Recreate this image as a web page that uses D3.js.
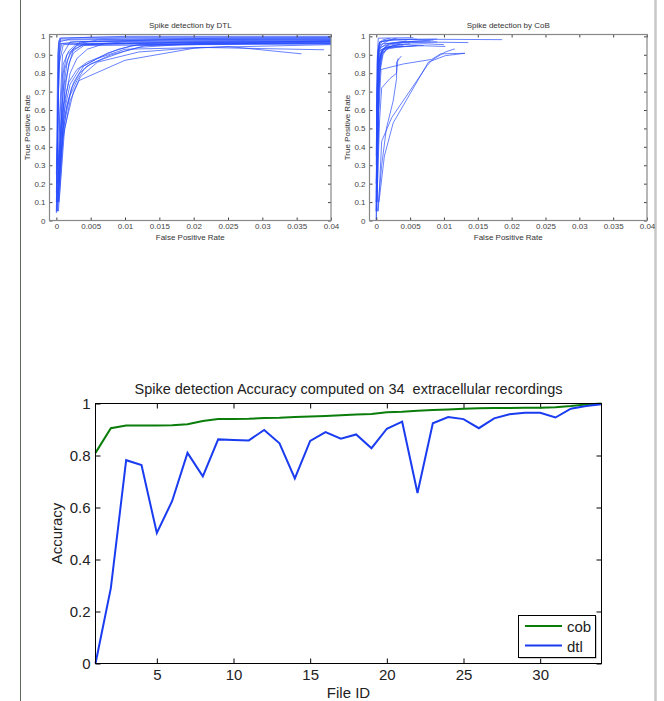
<!DOCTYPE html>
<html>
<head>
<meta charset="utf-8">
<script src="https://cdn.jsdelivr.net/npm/d3@7"></script>
<style>
body { margin: 0; background: #fff; }
svg { display: block; font-family: "Liberation Sans", Arial, sans-serif; }
</style>
</head>
<body>
<svg width="664" height="701"></svg>
<script>
// ROC кривые DTL: [FPR, TPR]
const rocDtl = [
    [[0, 0.04], [0.0002, 0.5], [0.0003, 0.95], [0.0005, 0.99], [0.005, 0.995], [0.02, 0.995], [0.04, 0.995]],
    [[0, 0.1], [0.0002, 0.6], [0.0004, 0.97], [0.002, 0.985], [0.01, 0.99], [0.04, 0.99]],
    [[0.0001, 0.2], [0.0003, 0.8], [0.0005, 0.96], [0.003, 0.97], [0.015, 0.975], [0.04, 0.98]],
    [[0, 0.05], [0.0004, 0.9], [0.0008, 0.96], [0.005, 0.962], [0.04, 0.965]],
    [[0.0001, 0.3], [0.0004, 0.85], [0.001, 0.955], [0.01, 0.958], [0.04, 0.96]],
    [[0, 0.15], [0.0003, 0.7], [0.0006, 0.99], [0.01, 1.0], [0.04, 1.0]],
    [[0.0001, 0.05], [0.0005, 0.6], [0.0009, 0.9], [0.002, 0.97], [0.02, 0.985], [0.04, 0.985]],
    [[0, 0.25], [0.0002, 0.9], [0.0004, 0.98], [0.025, 0.99], [0.04, 0.992]],
    [[0.0002, 0.1], [0.0006, 0.5], [0.001, 0.8], [0.0015, 0.9], [0.003, 0.95], [0.01, 0.97], [0.04, 0.975]],
    [[0.0003, 0.2], [0.0008, 0.6], [0.0012, 0.82], [0.002, 0.91], [0.004, 0.96], [0.012, 0.965], [0.04, 0.97]],
    [[0.0002, 0.05], [0.0007, 0.45], [0.0013, 0.75], [0.002, 0.87], [0.0025, 0.93], [0.004, 0.955], [0.02, 0.97], [0.04, 0.972]],
    [[0.0001, 0.1], [0.0005, 0.55], [0.001, 0.85], [0.0018, 0.92], [0.003, 0.96], [0.006, 0.98], [0.04, 0.985]],
    [[0.0003, 0.3], [0.001, 0.7], [0.0016, 0.87], [0.0024, 0.93], [0.0035, 0.97], [0.015, 0.98], [0.04, 0.98]],
    [[0.0003, 0.05], [0.001, 0.45], [0.002, 0.65], [0.0033, 0.76], [0.01, 0.87], [0.02, 0.935], [0.025, 0.945], [0.0357, 0.905]],
    [[0.0004, 0.1], [0.0012, 0.5], [0.0025, 0.7], [0.0035, 0.78], [0.006, 0.86], [0.012, 0.915], [0.021, 0.94], [0.039, 0.927]],
    [[0.0002, 0.1], [0.001, 0.5], [0.002, 0.68], [0.003, 0.76], [0.004, 0.82], [0.005, 0.85], [0.008, 0.9], [0.012, 0.94], [0.02, 0.96], [0.04, 0.975]],
    [[0.0003, 0.15], [0.0011, 0.55], [0.0022, 0.72], [0.0034, 0.8], [0.0045, 0.84], [0.007, 0.88], [0.01, 0.92], [0.013, 0.95], [0.04, 0.97]],
    [[0.0002, 0.2], [0.0009, 0.6], [0.0018, 0.75], [0.003, 0.82], [0.0045, 0.86], [0.0065, 0.89], [0.009, 0.93], [0.012, 0.955], [0.04, 0.965]],
    [[0.0004, 0.25], [0.0012, 0.6], [0.002, 0.74], [0.0035, 0.83], [0.005, 0.86], [0.0075, 0.91], [0.011, 0.95], [0.02, 0.96], [0.04, 0.96]],
    [[0.0001, 0.05], [0.0008, 0.4], [0.0015, 0.62], [0.0025, 0.75], [0.004, 0.84], [0.006, 0.88], [0.01, 0.93], [0.04, 0.955]],
    [[0.0003, 0.1], [0.001, 0.55], [0.0015, 0.7], [0.002, 0.8], [0.003, 0.88], [0.0045, 0.93], [0.007, 0.96], [0.04, 0.975]],
    [[0.0002, 0.15], [0.0008, 0.5], [0.0013, 0.72], [0.0018, 0.85], [0.0025, 0.91], [0.004, 0.95], [0.04, 0.96]]
];

// ROC кривые CoB
const rocCob = [
    [[0, 0], [0.0002, 0.5], [0.0003, 0.9], [0.0005, 0.97], [0.003, 0.985], [0.0186, 0.982]],
    [[0, 0.05], [0.0001, 0.6], [0.0003, 0.93], [0.001, 0.96], [0.005, 0.97], [0.0136, 0.966]],
    [[0.0001, 0.1], [0.0003, 0.7], [0.0006, 0.9], [0.002, 0.94], [0.006, 0.95], [0.0102, 0.945]],
    [[0, 0.2], [0.0002, 0.8], [0.0004, 0.95], [0.002, 0.98], [0.009, 0.985]],
    [[0, 0.3], [0.0001, 0.85], [0.0003, 0.99], [0.0055, 0.993]],
    [[0.0001, 0.15], [0.0004, 0.75], [0.0008, 0.9], [0.0015, 0.95], [0.004, 0.965], [0.009, 0.97]],
    [[0.0001, 0.05], [0.0004, 0.6], [0.0007, 0.82], [0.004, 0.85], [0.0082, 0.875], [0.0095, 0.905], [0.0131, 0.908]],
    [[0.0003, 0.05], [0.0008, 0.43], [0.0023, 0.56], [0.0075, 0.84], [0.0082, 0.87], [0.0102, 0.915], [0.0116, 0.932]],
    [[0.0004, 0.1], [0.0012, 0.35], [0.0025, 0.53], [0.0077, 0.86], [0.0102, 0.895], [0.0131, 0.908]],
    [[0.0002, 0.05], [0.0008, 0.3], [0.0015, 0.5], [0.0025, 0.65], [0.003, 0.77], [0.003, 0.86], [0.0037, 0.893]],
    [[0.0001, 0.1], [0.0005, 0.55], [0.0008, 0.72], [0.002, 0.77], [0.003, 0.8], [0.0032, 0.88]],
    [[0, 0.1], [0.0002, 0.75], [0.0005, 0.88], [0.001, 0.93], [0.003, 0.955], [0.007, 0.96], [0.01, 0.955]],
    [[0, 0.2], [0.0003, 0.85], [0.0006, 0.94], [0.002, 0.96], [0.006, 0.975], [0.0085, 0.98]],
    [[0.0001, 0.1], [0.0003, 0.8], [0.0008, 0.92], [0.0025, 0.95], [0.005, 0.96]],
    [[0, 0.05], [0.0002, 0.7], [0.0004, 0.92], [0.0015, 0.94], [0.004, 0.945], [0.007, 0.95]],
    [[0.0001, 0.2], [0.0004, 0.85], [0.001, 0.93], [0.002, 0.96], [0.0045, 0.975]],
    [[0, 0.35], [0.0002, 0.9], [0.0005, 0.97], [0.0025, 0.98], [0.006, 0.985]],
    [[0, 0.1], [0.0002, 0.88], [0.0006, 0.96], [0.001, 0.975], [0.003, 0.99]],
    [[0.0001, 0.3], [0.0005, 0.8], [0.001, 0.9], [0.0015, 0.93], [0.003, 0.94], [0.006, 0.95]],
    [[0, 0.15], [0.0001, 0.7], [0.0003, 0.85], [0.0007, 0.91], [0.0012, 0.94], [0.0035, 0.955]],
    [[0, 0.05], [0.0001, 0.4], [0.0002, 0.9], [0.0004, 0.96], [0.0009, 0.98], [0.002, 0.99]],
    [[0.0001, 0.25], [0.0002, 0.85], [0.0004, 0.93], [0.0015, 0.96], [0.0035, 0.97], [0.008, 0.975]],
    [[0, 0], [0.0001, 0.5], [0.0003, 0.82], [0.0006, 0.9], [0.0008, 0.93], [0.002, 0.945]],
    [[0.0002, 0.4], [0.0004, 0.7], [0.0006, 0.85], [0.001, 0.91], [0.0018, 0.94], [0.004, 0.95]]
];

const rocTicksX = [0, 0.005, 0.01, 0.015, 0.02, 0.025, 0.03, 0.035, 0.04];
const rocTicksY = [0, 0.1, 0.2, 0.3, 0.4, 0.5, 0.6, 0.7, 0.8, 0.9, 1];

// точность по файлам
const fileIds = d3.range(1, 35);
const accCob = [0.81, 0.905, 0.915, 0.915, 0.915, 0.916, 0.92, 0.933, 0.94, 0.94,
    0.941, 0.944, 0.945, 0.948, 0.95, 0.952, 0.955, 0.958, 0.96, 0.966,
    0.968, 0.972, 0.975, 0.977, 0.98, 0.982, 0.983, 0.983, 0.984, 0.984,
    0.986, 0.99, 0.996, 1.0];
const accDtl = [0, 0.29, 0.782, 0.763, 0.502, 0.625, 0.81, 0.72, 0.862, 0.86,
    0.858, 0.898, 0.847, 0.712, 0.856, 0.89, 0.865, 0.881, 0.828, 0.903,
    0.93, 0.656, 0.924, 0.948, 0.94, 0.905, 0.943, 0.959, 0.964, 0.964,
    0.946, 0.98, 0.99, 0.997];
const accTicksX = [5, 10, 15, 20, 25, 30];
const accTicksY = [0, 0.2, 0.4, 0.6, 0.8, 1];

let svg = d3.select("svg");

// рамки страницы
svg.append("line").attr("x1", 20.5).attr("x2", 20.5).attr("y1", 0).attr("y2", 701)
    .style("stroke", "#5f6a5f").style("stroke-width", 1);
svg.append("line").attr("x1", 655.5).attr("x2", 655.5).attr("y1", 0).attr("y2", 701)
    .style("stroke", "#c8c8c8").style("stroke-width", 2.5);

// оформление оси
function styleAxis(g, color, fontSize) {
    g.select(".domain").remove();
    g.selectAll("line").style("stroke", color);
    g.selectAll("text").style("fill", color).style("font-size", fontSize + "px")
        .style("font-family", "'Liberation Sans', Arial, sans-serif");
}

// маленький график ROC
function drawRoc(curves, area, title, id) {
    let scX = d3.scaleLinear().domain([-0.001, 0.04]).range([area.x0, area.x1]);
    let scY = d3.scaleLinear().domain([0, 1.01]).range([area.y1, area.y0]);
    let g = svg.append("g");

    g.append("clipPath").attr("id", id).append("rect")
        .attr("x", area.x0).attr("y", area.y0)
        .attr("width", area.x1 - area.x0).attr("height", area.y1 - area.y0);

    let line = d3.line().x(d => scX(d[0])).y(d => scY(d[1]));
    g.append("g").attr("clip-path", `url(#${id})`)
        .selectAll("path")
        .data(curves)
        .enter()
        .append("path")
        .attr("d", line)
        .style("fill", "none")
        .style("stroke", "#2a4dff")
        .style("stroke-opacity", 0.7)
        .style("stroke-width", 1);

    const axColor = "#444";
    g.append("g").attr("transform", `translate(0,${area.y1})`)
        .call(d3.axisBottom(scX).tickValues(rocTicksX).tickFormat(d => String(d))
            .tickSizeInner(-3).tickSizeOuter(0).tickPadding(3))
        .call(a => styleAxis(a, axColor, 8));
    g.append("g").attr("transform", `translate(0,${area.y0})`)
        .call(d3.axisTop(scX).tickValues(rocTicksX).tickFormat("")
            .tickSizeInner(-3).tickSizeOuter(0))
        .call(a => styleAxis(a, axColor, 8));
    g.append("g").attr("transform", `translate(${area.x0},0)`)
        .call(d3.axisLeft(scY).tickValues(rocTicksY).tickFormat(d => String(d))
            .tickSizeInner(-3).tickSizeOuter(0).tickPadding(4))
        .call(a => styleAxis(a, axColor, 8));
    g.append("g").attr("transform", `translate(${area.x1},0)`)
        .call(d3.axisRight(scY).tickValues(rocTicksY).tickFormat("")
            .tickSizeInner(-3).tickSizeOuter(0))
        .call(a => styleAxis(a, axColor, 8));

    g.append("rect")
        .attr("x", area.x0).attr("y", area.y0)
        .attr("width", area.x1 - area.x0).attr("height", area.y1 - area.y0)
        .style("fill", "none").style("stroke", "#888").style("stroke-width", 1.2);

    let cx = (area.x0 + area.x1) / 2;
    g.append("text").attr("x", cx).attr("y", 28).attr("text-anchor", "middle")
        .style("font-size", "8px").style("fill", "#333").text(title);
    g.append("text").attr("x", cx).attr("y", 240).attr("text-anchor", "middle")
        .style("font-size", "8px").style("fill", "#333").text("False Positive Rate");
    g.append("text")
        .attr("transform", `translate(${area.x0 - 20},${(area.y0 + area.y1) / 2}) rotate(-90)`)
        .attr("text-anchor", "middle")
        .style("font-size", "8px").style("fill", "#333").text("True Positive Rate");
}

drawRoc(rocDtl, { x0: 49.5, x1: 331, y0: 34.5, y1: 220.5 }, "Spike detection by DTL", "clipDtl");
drawRoc(rocCob, { x0: 369.5, x1: 647, y0: 34.5, y1: 220.5 }, "Spike detection by CoB", "clipCob");

// нижний график точности
let area = { x0: 95.5, x1: 601.5, y0: 403.5, y1: 663.5 };
let scX = d3.scaleLinear().domain([1, 34]).range([area.x0, area.x1]);
let scY = d3.scaleLinear().domain([0, 1]).range([area.y1, area.y0]);

let gAcc = svg.append("g");
gAcc.append("g").attr("transform", `translate(0,${area.y1})`)
    .call(d3.axisBottom(scX).tickValues(accTicksX).tickSizeInner(-5).tickSizeOuter(0).tickPadding(6))
    .call(a => styleAxis(a, "#000", 15));
gAcc.append("g").attr("transform", `translate(0,${area.y0})`)
    .call(d3.axisTop(scX).tickValues(accTicksX).tickFormat("").tickSizeInner(-5).tickSizeOuter(0))
    .call(a => styleAxis(a, "#000", 15));
gAcc.append("g").attr("transform", `translate(${area.x0},0)`)
    .call(d3.axisLeft(scY).tickValues(accTicksY).tickFormat(d => String(d)).tickSizeInner(-5).tickSizeOuter(0).tickPadding(5))
    .call(a => styleAxis(a, "#000", 15));
gAcc.append("g").attr("transform", `translate(${area.x1},0)`)
    .call(d3.axisRight(scY).tickValues(accTicksY).tickFormat("").tickSizeInner(-5).tickSizeOuter(0))
    .call(a => styleAxis(a, "#000", 15));
gAcc.selectAll(".tick text").style("fill", "#222");

let accLine = d3.line().x((d, i) => scX(fileIds[i])).y(d => scY(d));
gAcc.append("path").datum(accCob).attr("d", accLine)
    .style("fill", "none").style("stroke", "#0b7d0b").style("stroke-width", 2);
gAcc.append("path").datum(accDtl).attr("d", accLine)
    .style("fill", "none").style("stroke", "#1a3cf0").style("stroke-width", 2);

gAcc.append("rect")
    .attr("x", area.x0).attr("y", area.y0)
    .attr("width", area.x1 - area.x0).attr("height", area.y1 - area.y0)
    .style("fill", "none").style("stroke", "#000").style("stroke-width", 1);

// подписи
gAcc.append("text").attr("x", (area.x0 + area.x1) / 2).attr("y", 394)
    .attr("text-anchor", "middle").style("font-size", "14.5px").style("fill", "#222")
    .style("white-space", "pre")
    .text("Spike detection Accuracy computed on 34  extracellular recordings");
gAcc.append("text").attr("x", (area.x0 + area.x1) / 2).attr("y", 698)
    .attr("text-anchor", "middle").style("font-size", "15px").style("fill", "#222").text("File ID");
gAcc.append("text")
    .attr("transform", `translate(62,${(area.y0 + area.y1) / 2}) rotate(-90)`)
    .attr("text-anchor", "middle").style("font-size", "15px").style("fill", "#222").text("Accuracy");

// легенда
let leg = gAcc.append("g");
leg.append("rect").attr("x", 519.5).attr("y", 616.5).attr("width", 77).attr("height", 42)
    .style("fill", "#999");
leg.append("rect").attr("x", 518.5).attr("y", 615.5).attr("width", 77).attr("height", 42)
    .style("fill", "#fff").style("stroke", "#000").style("stroke-width", 1);
const legItems = [{ name: "cob", color: "#0b7d0b" }, { name: "dtl", color: "#1a3cf0" }];
legItems.forEach((d, i) => {
    let y = 626 + i * 19.5;
    leg.append("line").attr("x1", 525).attr("x2", 562).attr("y1", y).attr("y2", y)
        .style("stroke", d.color).style("stroke-width", 2);
    leg.append("text").attr("x", 567).attr("y", y + 6).style("font-size", "15px")
        .style("fill", "#222").text(d.name);
});
</script>
</body>
</html>
